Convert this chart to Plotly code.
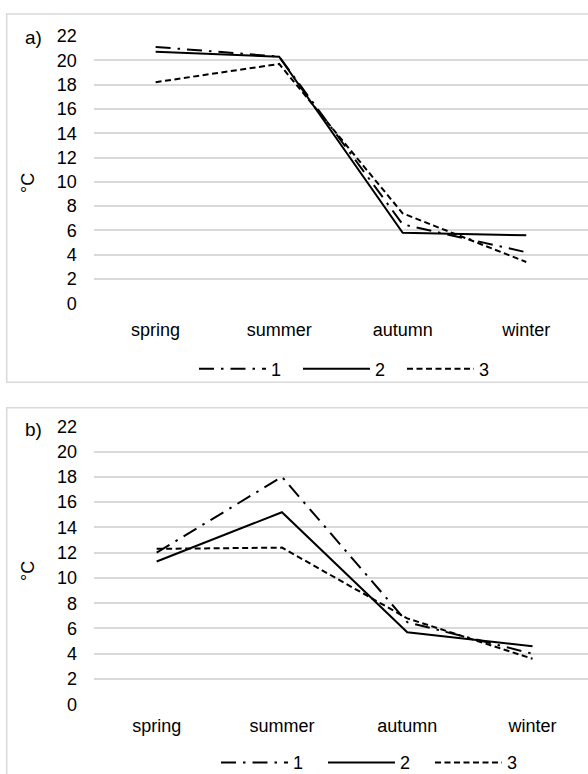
import plotly.graph_objects as go

seasons = ["spring", "summer", "autumn", "winter"]
y_ticks = list(range(0, 23, 2))
series_names = ["1", "2", "3"]

a_s1 = [21.1, 20.3, 6.5, 4.2]
a_s2 = [20.7, 20.3, 5.8, 5.6]
a_s3 = [18.2, 19.7, 7.4, 3.4]

b_s1 = [12.0, 18.0, 6.5, 4.0]
b_s2 = [11.3, 15.2, 5.7, 4.6]
b_s3 = [12.3, 12.4, 6.8, 3.6]

W, H = 588, 774
def px(x):
    return x / W
def py(y):
    return 1 - y / H

dashes = ["15px,7px,2.5px,7px", "solid", "6px,3.5px"]
FONT = "Liberation Sans, Arial, sans-serif"
TXT = "#000000"
GRID = "#d9d9d9"

fig = go.Figure()
for vals, name, dash in zip([a_s1, a_s2, a_s3], series_names, dashes):
    fig.add_trace(go.Scatter(x=seasons, y=vals, name=name, mode="lines",
                             line=dict(color="black", width=2, dash=dash),
                             xaxis="x", yaxis="y", legend="legend"))
for vals, name, dash in zip([b_s1, b_s2, b_s3], series_names, dashes):
    fig.add_trace(go.Scatter(x=seasons, y=vals, name=name, mode="lines",
                             line=dict(color="black", width=2, dash=dash),
                             xaxis="x2", yaxis="y2", legend="legend2"))

tickfont = dict(family=FONT, size=18, color=TXT)
xcommon = dict(type="category", showgrid=False, zeroline=False, showline=False,
               ticks="", tickfont=tickfont, fixedrange=True)
ycommon = dict(range=[0, 22], tickvals=y_ticks, showgrid=True, gridcolor=GRID,
               gridwidth=1.5, zeroline=False, showline=False, ticks="",
               tickfont=tickfont, ticklabelstandoff=16, fixedrange=True)

legfont = dict(family=FONT, size=18, color=TXT)

fig.update_layout(
    width=W, height=H,
    margin=dict(l=0, r=0, t=0, b=0, autoexpand=False),
    paper_bgcolor="white", plot_bgcolor="white",
    font=dict(family=FONT, color=TXT),
    xaxis=dict(domain=[px(93.85), 1], range=[-0.5, 3.5], anchor="y",
               ticklabelstandoff=14, **xcommon),
    yaxis=dict(domain=[py(303.3), py(36)], anchor="x", **ycommon),
    xaxis2=dict(domain=[px(94), 1], range=[-0.5, -0.5 + 494 / 125.3], anchor="y2",
                ticklabelstandoff=9, **xcommon),
    yaxis2=dict(domain=[py(704.3), py(426.3)], anchor="x2", **ycommon),
    legend=dict(orientation="h", x=px(194), y=py(369), xanchor="left", yanchor="middle",
                font=legfont, itemwidth=67, entrywidth=22,
                bgcolor="rgba(0,0,0,0)"),
    legend2=dict(orientation="h", x=px(216), y=py(762.7), xanchor="left", yanchor="middle",
                 font=legfont, itemwidth=67, entrywidth=25,
                 bgcolor="rgba(0,0,0,0)"),
    shapes=[
        dict(type="rect", xref="paper", yref="paper", x0=px(6.7), x1=px(600),
             y0=py(382.3), y1=py(14), line=dict(color=GRID, width=1.5), layer="below"),
        dict(type="rect", xref="paper", yref="paper", x0=px(6.7), x1=px(600),
             y0=py(790), y1=py(407.7), line=dict(color=GRID, width=1.5), layer="below"),
    ],
    annotations=[
        dict(text="a)", x=px(33), y=py(37), xref="paper", yref="paper", showarrow=False,
             xanchor="center", yanchor="middle", font=dict(family=FONT, size=19, color=TXT)),
        dict(text="b)", x=px(33), y=py(429), xref="paper", yref="paper", showarrow=False,
             xanchor="center", yanchor="middle", font=dict(family=FONT, size=19, color=TXT)),
        dict(text="°C", x=px(28), y=py(183), xref="paper", yref="paper", showarrow=False,
             xanchor="center", yanchor="middle", textangle=-90,
             font=dict(family=FONT, size=18, color=TXT)),
        dict(text="°C", x=px(28), y=py(571), xref="paper", yref="paper", showarrow=False,
             xanchor="center", yanchor="middle", textangle=-90,
             font=dict(family=FONT, size=18, color=TXT)),
    ],
)

fig.write_html("out.html", config={"displayModeBar": False},
               post_script="document.body.style.margin='0';")
